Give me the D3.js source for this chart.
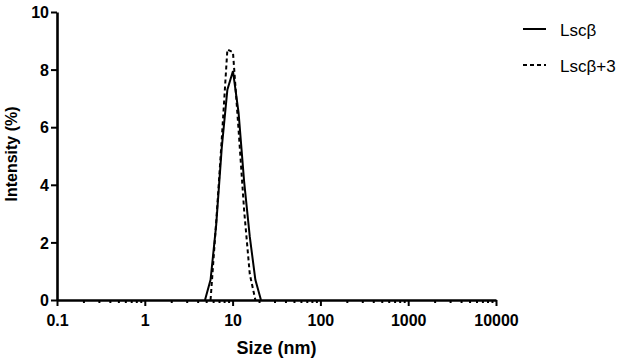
<!DOCTYPE html>
<html>
<head>
<meta charset="utf-8">
<script src="https://cdn.jsdelivr.net/npm/d3@7"></script>
<style>
  body { margin: 0; background: #fff; }
  text { font-family: "Liberation Sans", Arial, sans-serif; }
</style>
</head>
<body>
<svg class="chart"></svg>
<script>
// size bins (nm) and intensity (%)
var sizes = [4.85, 5.61, 6.50, 7.53, 8.72, 10.10, 11.70, 13.54, 15.69, 18.17, 21.04];
var lscb = [0, 0.7, 2.6, 5.3, 7.3, 7.95, 6.5, 4.1, 2.2, 0.7, 0];
var lscb3 = [null, 0, 2.7, 5.6, 8.7, 8.6, 5.9, 3.1, 0.9, 0, null];
var seriesNames = ["Lsc\u03b2", "Lsc\u03b2+3"];
var xTicks = [0.1, 1, 10, 100, 1000, 10000];
var yTicks = [0, 2, 4, 6, 8, 10];

var width = 634, height = 362;
var margin = {top: 12, right: 138, bottom: 62, left: 57};
var chartWidth = width - margin.left - margin.right;
var chartHeight = height - margin.top - margin.bottom;

var svg = d3.select(".chart").attr("width", width).attr("height", height);
var chart = svg.append("g").attr("transform", "translate(" + margin.left + "," + margin.top + ")");

var x = d3.scaleLog().domain([0.1, 10000]).range([0, chartWidth]);
var y = d3.scaleLinear().domain([0, 10]).range([chartHeight, 0]);

// minor ticks on the log axis
var minor = [];
xTicks.slice(0, -1).forEach(function(t) {
  for (var k = 2; k <= 9; k++) minor.push(t * k);
});

chart.append("g")
  .attr("transform", "translate(0," + chartHeight + ")")
  .call(d3.axisBottom(x).tickValues(minor).tickSize(3).tickFormat(""))
  .call(function(g) { g.select(".domain").remove(); g.selectAll("line").attr("stroke-width", 2); });

var xAxis = chart.append("g")
  .attr("transform", "translate(0," + chartHeight + ")")
  .call(d3.axisBottom(x).tickValues(xTicks).tickSize(6).tickSizeOuter(0).tickPadding(6)
    .tickFormat(function(d) { return String(d); }));

var yAxis = chart.append("g")
  .call(d3.axisLeft(y).tickValues(yTicks).tickSize(6).tickSizeOuter(0).tickPadding(2));

[xAxis, yAxis].forEach(function(g) {
  g.select(".domain").attr("stroke-width", 2.6);
  g.selectAll(".tick line").attr("stroke-width", 2);
  g.selectAll("text").attr("font-size", 16).attr("font-weight", "bold").attr("fill", "#000")
    .style("font-family", "'Liberation Sans', Arial, sans-serif");
});
xAxis.selectAll("text").attr("dy", "0.9em");
yAxis.selectAll("text").attr("dy", "0.36em");

var line = d3.line()
  .defined(function(d) { return d[1] !== null; })
  .x(function(d) { return x(d[0]); })
  .y(function(d) { return y(d[1]); });

chart.append("path")
  .datum(sizes.map(function(s, i) { return [s, lscb[i]]; }))
  .attr("fill", "none").attr("stroke", "#000").attr("stroke-width", 2)
  .attr("d", line);

chart.append("path")
  .datum(sizes.map(function(s, i) { return [s, lscb3[i]]; }))
  .attr("fill", "none").attr("stroke", "#000").attr("stroke-width", 2)
  .attr("stroke-dasharray", "4,3")
  .attr("d", line);

// axis titles
svg.append("text")
  .attr("x", margin.left + chartWidth / 2).attr("y", 354)
  .attr("text-anchor", "middle").attr("font-size", 18).attr("font-weight", "bold")
  .text("Size (nm)");

svg.append("text")
  .attr("transform", "translate(17,154) rotate(-90)")
  .attr("text-anchor", "middle").attr("font-size", 16).attr("font-weight", "bold")
  .text("Intensity (%)");

// legend
var legend = svg.append("g").attr("transform", "translate(523,0)");
seriesNames.forEach(function(name, i) {
  var ly = 29 + i * 36;
  legend.append("line")
    .attr("x1", 0).attr("x2", 23).attr("y1", ly).attr("y2", ly)
    .attr("stroke", "#000").attr("stroke-width", 2)
    .attr("stroke-dasharray", i === 1 ? "4,3" : null);
  legend.append("text")
    .attr("x", 37).attr("y", ly + 7)
    .attr("font-size", 17)
    .text(name);
});
</script>
</body>
</html>
